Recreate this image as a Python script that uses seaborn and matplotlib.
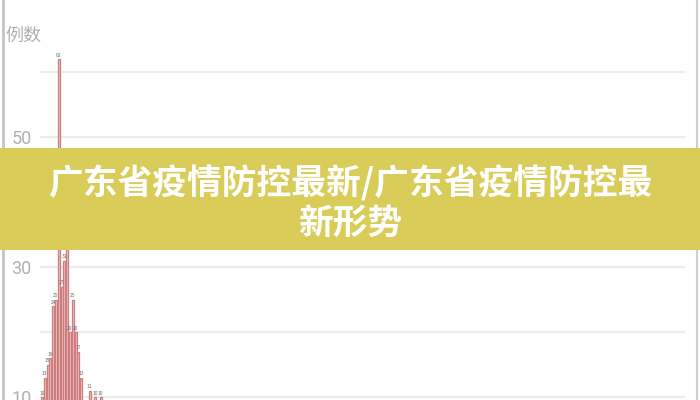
import numpy as np
import pandas as pd
import matplotlib
matplotlib.use('Agg')
import matplotlib.pyplot as plt
import seaborn as sns
from matplotlib.patches import Rectangle
from matplotlib.lines import Line2D

# données (la partie basse est coupée)
days = list(range(1, 23))
cases = [10, 13, 15, 16, 24, 25, 62, 27, 31, 42, 20, 25, 20, 17, 13, 8, 7, 11, 6, 10, 5, 10]
y_ticks = [10, 20, 30, 40, 50, 60]
y_tick_labels = ['10', '', '30', '', '50', '']
y_title = '例数'
banner_lines = ['广东省疫情防控最新/广东省疫情防控最', '新形势']

sns.set_theme(style='white')
plt.rcParams['font.family'] = ['Noto Sans CJK SC', 'DejaVu Sans']

df = pd.DataFrame({'day': days, 'cases': cases})

fig = plt.figure(figsize=(7, 4), dpi=100)
ax = fig.add_axes([40 / 700, 0, 645 / 700, 393 / 400])

sns.barplot(data=df, x='day', y='cases', native_scale=True, width=0.7,
            color='#efc4c4', edgecolor='#cf7c7c', linewidth=0.9, ax=ax)
ax.bar_label(ax.containers[0], fontsize=3.5, color='#666666', padding=1)

ax.set_xlim(0.3, 230.6)
ax.set_ylim(9.54, 70)
ax.set_yticks(y_ticks)
ax.set_yticklabels(y_tick_labels, fontsize=13, color='#b0b0b0', family='Roboto')
ax.set_xticks([])
ax.set_xlabel('')
ax.set_ylabel('')
ax.tick_params(axis='y', length=0, pad=6)
ax.grid(axis='y', color='#ececec', linewidth=1.6)
ax.set_axisbelow(True)
for s in ax.spines.values():
    s.set_visible(False)

fig.text(5 / 700, 1 - 36 / 400, y_title, fontsize=13, color='#b0b0b0', va='center', ha='left')

# bordures gauche / droite
fig.add_artist(Line2D([3 / 700, 3 / 700], [0, 1], color='#c4c4c4', linewidth=2))
fig.add_artist(Line2D([697 / 700, 697 / 700], [0, 1], color='#cfcfcf', linewidth=1.5))

# bandeau jaune
fig.add_artist(Rectangle((0, 150 / 400), 1, 102 / 400, transform=fig.transFigure,
                         facecolor='#d9cc59', edgecolor='none', zorder=5))
fig.text(0.5, 1 - 183 / 400, banner_lines[0], ha='center', va='center', fontsize=25,
         fontweight='black', color='white', zorder=6)
fig.text(0.5, 1 - 223 / 400, banner_lines[1], ha='center', va='center', fontsize=25,
         fontweight='black', color='white', zorder=6)

fig.savefig('out.png', dpi=100)
